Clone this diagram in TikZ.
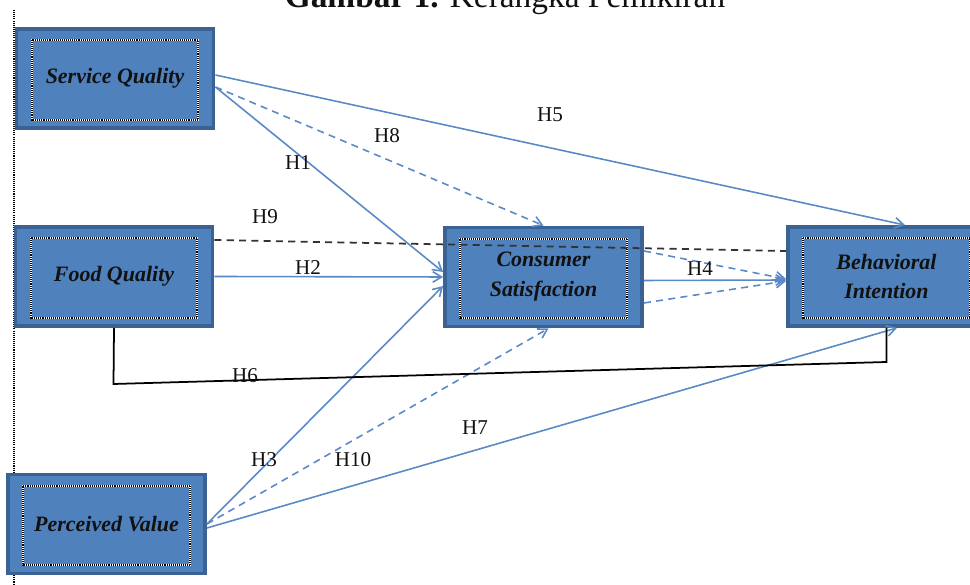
\documentclass[tikz,border=0pt]{standalone}
\usepackage{fontspec}
\setmainfont{Liberation Serif}
\usetikzlibrary{arrows.meta, calc}
\definecolor{boxBlue}{HTML}{4F81BD}
\definecolor{boxEdge}{HTML}{3A6294}
\definecolor{lineBlue}{HTML}{5A8AC6}
\definecolor{textDark}{HTML}{111111}

\tikzset{
  construct/.style={draw=boxEdge, line width=2.2pt, fill=boxBlue,
    minimum width=3.94cm, minimum height=1.98cm, align=center,
    font=\fontsize{12.5}{17}\selectfont\bfseries\itshape, text=textDark},
  hyp/.style={lineBlue, line width=0.9pt, -{Straight Barb[length=5pt,width=6pt]}},
  hypdash/.style={hyp, dash pattern=on 4pt off 3pt},
  hlabel/.style={font=\fontsize{12}{14}\selectfont, text=textDark, inner sep=1pt},
}

\begin{document}
\begin{tikzpicture}
    \useasboundingbox (0, 0) rectangle (19.4, 11.7);
    \clip (0, 0) rectangle (19.4, 11.7);

    % caption, cut off at the top
    \node[font=\fontsize{19}{22}\selectfont, anchor=base, text=textDark] (title) at (10.1, 11.54)
      {\textbf{Gambar 1.} Kerangka Pemikiran};
    \draw[black, line width=1pt, dash pattern=on 0.6pt off 0.6pt] (0.28, 11.5) -- (0.28, 0);

    % constructs
    \node[construct] (sq) at (2.30, 10.13) {\raisebox{-4pt}{Service Quality}};
    \node[construct] (fq) at (2.28, 6.17) {\raisebox{-3pt}{Food Quality}};
    \node[construct] (pv) at (2.13, 1.22) {\raisebox{-3pt}{Perceived Value}};
    \node[construct] (cs) at (10.87, 6.16) {Consumer\\Satisfaction};
    \node[construct] (bi) at (17.73, 6.17) {Behavioral\\Intention};

    \foreach \n in {sq, fq, pv, cs, bi} {
      \draw[white, line width=1.1pt] ($(\n.north west)+(0.34,-0.26)$) rectangle ($(\n.south east)+(-0.34,0.2)$);
      \draw[black, line width=1.1pt, dash pattern=on 0.55pt off 0.55pt]
        ($(\n.north west)+(0.34,-0.26)$) rectangle ($(\n.south east)+(-0.34,0.2)$);
    }

    % hypotheses
    \draw[hyp] ([yshift=-0.17cm]sq.east) -- ([yshift=0.1cm]cs.west);
    \draw[hyp] (fq.east) -- (cs.west);
    \draw[hyp] (pv.east) -- ([yshift=-0.18cm]cs.west);
    \draw[hyp] ([yshift=-0.07cm]cs.east) -- ([yshift=-0.07cm]bi.west);
    \draw[hyp] ([yshift=0.07cm]sq.east) -- ([xshift=0.37cm]bi.north);
    \draw[hyp] ([yshift=-0.08cm]pv.east) -- ([xshift=0.21cm]bi.south);
    \draw[hypdash] ([yshift=-0.17cm]sq.east) -- (cs.north);
    \draw[hypdash] (pv.east) -- ([xshift=0.1cm]cs.south);
    \draw[hypdash] ([yshift=0.52cm]cs.east) -- ([yshift=-0.05cm]bi.west);
    \draw[hypdash] ([yshift=-0.52cm]cs.east) -- ([yshift=-0.09cm]bi.west);

    \coordinate (h6l) at (2.27, 4.02);
    \coordinate (h6r) at (17.73, 4.46);
    \draw[black, line width=1pt] (fq.south) -- (h6l) -- (h6r) -- (bi.south);
    \draw[black!80, line width=1pt, dash pattern=on 4pt off 3pt]
      ([yshift=0.73cm]fq.east) -- ([yshift=0.51cm]bi.west);

    \node[hlabel] (h1) at (5.96, 8.44) {H1};
    \node[hlabel] (h2) at (6.16, 6.34) {H2};
    \node[hlabel] (h3) at (5.28, 2.50) {H3};
    \node[hlabel] (h4) at (14.0, 6.32) {H4};
    \node[hlabel] (h5) at (11.0, 9.40) {H5};
    \node[hlabel] (h6) at (4.90, 4.18) {H6};
    \node[hlabel] (h7) at (9.50, 3.14) {H7};
    \node[hlabel] (h8) at (7.74, 8.98) {H8};
    \node[hlabel] (h9) at (5.30, 7.36) {H9};
    \node[hlabel] (h10) at (7.06, 2.50) {H10};
  \end{tikzpicture}
\end{document}
